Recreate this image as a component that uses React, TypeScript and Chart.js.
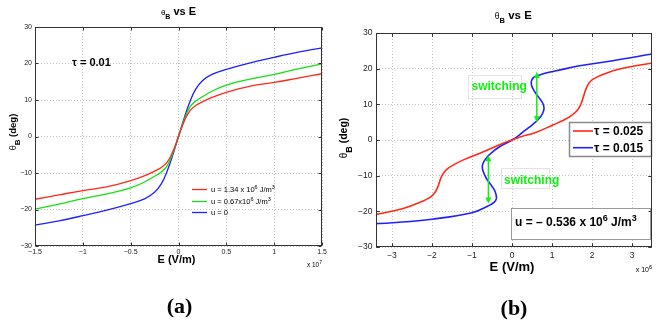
import React, { useEffect, useRef } from 'react';
import { Chart, registerables } from 'chart.js';
Chart.register(...registerables);

const SANS = '"Liberation Sans", Arial, Helvetica, sans-serif';
const SERIF = '"Liberation Serif", "Times New Roman", serif';

// ---------- Panel (a): theta_B vs E, tau = 0.01 (E in units of 1e7 V/m) ----------
const E_A = [-1.5, -1.25, -1, -0.75, -0.5, -0.35, -0.25, -0.18, -0.12, -0.06, 0, 0.06, 0.12, 0.18, 0.25, 0.35, 0.5, 0.75, 1, 1.25, 1.5];
const THETA_A_U134 = [-17.2, -16.0, -14.8, -13.8, -12.1, -10.7, -9.5, -8.5, -7.1, -4.2, 0, 4.2, 7.1, 8.5, 9.5, 10.7, 12.1, 13.8, 14.8, 16.0, 17.2];
const THETA_A_U067 = [-19.9, -18.5, -17.0, -15.7, -14.1, -12.4, -10.9, -9.7, -8.1, -4.6, 0, 4.6, 8.1, 9.7, 10.9, 12.4, 14.1, 15.7, 17.0, 18.5, 19.9];
const THETA_A_U0 = [-24.3, -23.1, -21.7, -20.2, -18.4, -17.0, -15.3, -13.0, -9.6, -5.1, 0, 5.1, 9.6, 13.0, 15.3, 17.0, 18.4, 20.2, 21.7, 23.1, 24.3];
const A_X_MIN = -1.5, A_X_MAX = 1.5, A_X_STEP = 0.5;
const Y_MIN = -30, Y_MAX = 30, Y_STEP = 10;

// ---------- Panel (b): u = -0.536e6 J/m^3 (E in units of 1e6 V/m) ----------
const E_B_TAU025 = [-3.5, -2.72, -2.22, -2.05, -1.93, -1.85, -1.76, -1.64, -1.45, -1.2, -0.8, -0.22, 0, 0.19, 0.61, 1.02, 1.3, 1.5, 1.64, 1.72, 1.79, 1.86, 1.94, 2.05, 2.3, 2.69, 3.5];
const THETA_B_TAU025 = [-21.1, -19.2, -17.1, -16.1, -14.8, -13.0, -10.2, -8.3, -6.9, -5.5, -3.7, -0.9, 0, 0.8, 2.2, 4.2, 5.6, 7.0, 8.4, 10.0, 12.3, 14.6, 16.2, 17.2, 18.5, 19.9, 21.6];
const E_B_TAU015 = [-3.5, -3.0, -2.0, -1.0, -0.6, -0.45, -0.39, -0.42, -0.5, -0.64, -0.73, -0.74, -0.7, -0.6, -0.45, -0.31, -0.15, 0, 0.15, 0.27, 0.4, 0.52, 0.66, 0.76, 0.8, 0.77, 0.68, 0.57, 0.49, 0.49, 0.55, 0.69, 0.9, 1.11, 1.69, 2.52, 3.5];
const THETA_B_TAU015 = [-23.5, -23.2, -22.2, -20.4, -18.5, -17.5, -16.4, -14.5, -13.0, -10.8, -8.5, -7.2, -6.0, -4.5, -3.0, -1.9, -0.9, 0, 1.1, 2.2, 3.3, 4.4, 5.8, 7.3, 8.8, 10.3, 11.8, 13.5, 15.3, 16.7, 17.6, 18.2, 18.9, 19.4, 20.8, 22.2, 24.1];
const B_X_MIN = -3.4, B_X_MAX = 3.5, B_X_STEP = 1;
// switching arrows: E position, theta start, theta end
const ARROW_E = [0.62, -0.59];
const ARROW_FROM = [5.0, -4.3];
const ARROW_TO = [19.1, -17.8];

const RED = '#ff2a1a';
const GREEN = '#14e014';
const BLUE = '#2020ff';
const ARROW_GREEN = '#11ee11';

type Seg = { t: string; f: string; dy?: number; c?: string };

function richWidth(ctx: CanvasRenderingContext2D, segs: Seg[]) {
  let w = 0;
  for (const s of segs) { ctx.font = s.f; w += ctx.measureText(s.t).width; }
  return w;
}
function drawRich(ctx: CanvasRenderingContext2D, segs: Seg[], x: number, y: number, align: 'left' | 'center' | 'right' = 'left') {
  const w = richWidth(ctx, segs);
  let cx = align === 'left' ? x : align === 'center' ? x - w / 2 : x - w;
  ctx.textAlign = 'left';
  ctx.textBaseline = 'alphabetic';
  for (const s of segs) {
    ctx.font = s.f;
    ctx.fillStyle = s.c || '#000';
    ctx.fillText(s.t, cx, y + (s.dy || 0));
    cx += ctx.measureText(s.t).width;
  }
}
function fmtTick(v: number | string) {
  const n = Number(v);
  const r = Math.round(n * 1000) / 1000;
  return r < 0 ? '\u2212' + String(Math.abs(r)) : String(r);
}
function frameAndTicks(chart: any) {
  const { ctx, chartArea: a, scales } = chart;
  ctx.save();
  ctx.strokeStyle = '#333';
  ctx.lineWidth = 1;
  const L = Math.round(a.left) + 0.5, T = Math.round(a.top) + 0.5, R = Math.round(a.right) - 0.5, B = Math.round(a.bottom) - 0.5;
  ctx.strokeRect(L, T, R - L, B - T);
  ctx.beginPath();
  for (const t of scales.x.ticks) {
    const px = Math.round(scales.x.getPixelForValue(t.value)) + 0.5;
    ctx.moveTo(px, B); ctx.lineTo(px, B - 3);
    ctx.moveTo(px, T); ctx.lineTo(px, T + 3);
  }
  for (const t of scales.y.ticks) {
    const py = Math.round(scales.y.getPixelForValue(t.value)) + 0.5;
    ctx.moveTo(L, py); ctx.lineTo(L + 3, py);
    ctx.moveTo(R, py); ctx.lineTo(R - 3, py);
  }
  ctx.stroke();
  ctx.restore();
}
function rotatedLabel(ctx: CanvasRenderingContext2D, segs: Seg[], x: number, y: number) {
  ctx.save();
  ctx.translate(x, y);
  ctx.rotate(-Math.PI / 2);
  drawRich(ctx, segs, 0, 0, 'center');
  ctx.restore();
}

const annotA = {
  id: 'annotA',
  afterDraw(chart: any) {
    const { ctx, chartArea: a } = chart;
    frameAndTicks(chart);
    ctx.save();
    const cx = (a.left + a.right) / 2;
    drawRich(ctx, [
      { t: '\u03B8', f: `8px ${SANS}` },
      { t: 'B', f: `bold 7px ${SANS}`, dy: 3.5 },
      { t: ' vs E', f: `bold 11px ${SANS}` },
    ], cx, 15, 'center');
    rotatedLabel(ctx, [
      { t: '\u03B8', f: `9px ${SANS}` },
      { t: 'B', f: `bold 8px ${SANS}`, dy: 4 },
      { t: ' (deg)', f: `bold 9.5px ${SANS}` },
    ], 15.5, 132);
    drawRich(ctx, [{ t: 'E (V/m)', f: `bold 11px ${SANS}` }], cx - 2, 263, 'center');
    drawRich(ctx, [
      { t: 'x 10', f: `6.5px ${SANS}` },
      { t: '7', f: `5px ${SANS}`, dy: -3 },
    ], a.right, 267, 'right');
    drawRich(ctx, [{ t: '\u03C4 = 0.01', f: `bold 11px ${SANS}` }], 72, 66, 'left');

    const rows: { c: string; segs: Seg[] }[] = [
      { c: RED, segs: [{ t: 'u = 1.34 x 10', f: `7.5px ${SANS}` }, { t: '6', f: `5.5px ${SANS}`, dy: -3 }, { t: ' J/m', f: `7.5px ${SANS}` }, { t: '3', f: `5.5px ${SANS}`, dy: -3 }] },
      { c: GREEN, segs: [{ t: 'u = 0.67x10', f: `7.5px ${SANS}` }, { t: '6', f: `5.5px ${SANS}`, dy: -3 }, { t: ' J/m', f: `7.5px ${SANS}` }, { t: '3', f: `5.5px ${SANS}`, dy: -3 }] },
      { c: BLUE, segs: [{ t: 'u = 0', f: `7.5px ${SANS}` }] },
    ];
    const rowY = [189, 201, 212];
    rows.forEach((r, i) => {
      ctx.strokeStyle = r.c;
      ctx.lineWidth = 1.3;
      ctx.beginPath();
      ctx.moveTo(192, rowY[i] + 0.5);
      ctx.lineTo(207, rowY[i] + 0.5);
      ctx.stroke();
      drawRich(ctx, r.segs, 211, rowY[i] + 2.7, 'left');
    });
    drawRich(ctx, [{ t: '(a)', f: `bold 22px ${SERIF}` }], 179.5, 313, 'center');
    ctx.restore();
  },
};

function drawArrow(ctx: CanvasRenderingContext2D, x: number, y1: number, y2: number) {
  const head = 6, hw = 3;
  const top = Math.min(y1, y2), bot = Math.max(y1, y2);
  ctx.strokeStyle = ARROW_GREEN;
  ctx.fillStyle = ARROW_GREEN;
  ctx.lineWidth = 1.5;
  ctx.beginPath();
  ctx.moveTo(x, top + head - 1);
  ctx.lineTo(x, bot - head + 1);
  ctx.stroke();
  ctx.beginPath();
  ctx.moveTo(x, top); ctx.lineTo(x - hw, top + head); ctx.lineTo(x + hw, top + head); ctx.closePath(); ctx.fill();
  ctx.beginPath();
  ctx.moveTo(x, bot); ctx.lineTo(x - hw, bot - head); ctx.lineTo(x + hw, bot - head); ctx.closePath(); ctx.fill();
}

const annotB = {
  id: 'annotB',
  afterDraw(chart: any) {
    const { ctx, chartArea: a, scales } = chart;
    frameAndTicks(chart);
    ctx.save();
    // switching annotations
    ctx.strokeStyle = '#e4e4e4';
    ctx.lineWidth = 1;
    ctx.strokeRect(138.5, 75.5, 53, 23);
    ctx.strokeRect(171.5, 168.5, 48, 20);
    drawRich(ctx, [{ t: 'switching', f: `bold 12px ${SANS}`, c: ARROW_GREEN }], 141.5, 89.5, 'left');
    drawRich(ctx, [{ t: 'switching', f: `bold 12px ${SANS}`, c: ARROW_GREEN }], 174, 183.5, 'left');
    ARROW_E.forEach((e, i) => {
      const x = scales.x.getPixelForValue(e);
      drawArrow(ctx, x, scales.y.getPixelForValue(ARROW_FROM[i]), scales.y.getPixelForValue(ARROW_TO[i]));
    });
    // legend box
    ctx.fillStyle = '#fff';
    ctx.fillRect(239.5, 122.5, 82, 34);
    ctx.strokeStyle = '#8a8a8a';
    ctx.strokeRect(239.5, 122.5, 82, 34);
    const lg = [{ c: RED, t: '\u03C4 = 0.025', y: 131 }, { c: BLUE, t: '\u03C4 = 0.015', y: 147.7 }];
    lg.forEach((r) => {
      ctx.strokeStyle = r.c;
      ctx.lineWidth = 1.6;
      ctx.beginPath();
      ctx.moveTo(243, r.y);
      ctx.lineTo(263, r.y);
      ctx.stroke();
      drawRich(ctx, [{ t: r.t, f: `bold 12px ${SANS}` }], 264, r.y + 4.3, 'left');
    });
    // u box
    ctx.fillStyle = '#fff';
    ctx.fillRect(181.5, 208.5, 139, 31);
    ctx.strokeStyle = '#9a9a9a';
    ctx.lineWidth = 1;
    ctx.strokeRect(181.5, 208.5, 139, 31);
    drawRich(ctx, [
      { t: 'u = \u2013 0.536 x 10', f: `bold 12px ${SANS}` },
      { t: '6', f: `bold 9px ${SANS}`, dy: -5 },
      { t: ' J/m', f: `bold 12px ${SANS}` },
      { t: '3', f: `bold 9px ${SANS}`, dy: -5 },
    ], 185, 226, 'left');
    ctx.restore();
    frameAndTicks(chart);
    ctx.save();
    const cx = (a.left + a.right) / 2;
    drawRich(ctx, [
      { t: '\u03B8', f: `8.5px ${SANS}` },
      { t: 'B', f: `bold 7.5px ${SANS}`, dy: 4 },
      { t: ' vs E', f: `bold 11.5px ${SANS}` },
    ], 183.3, 19, 'center');
    rotatedLabel(ctx, [
      { t: '\u03B8', f: `10px ${SANS}` },
      { t: 'B', f: `bold 9px ${SANS}`, dy: 4.5 },
      { t: ' (deg)', f: `bold 10.5px ${SANS}` },
    ], 17, 138);
    drawRich(ctx, [{ t: 'E (V/m)', f: `bold 13px ${SANS}` }], cx - 2, 271, 'center');
    drawRich(ctx, [
      { t: 'x 10', f: `7px ${SANS}` },
      { t: '6', f: `5.5px ${SANS}`, dy: -3 },
    ], a.right, 271.5, 'right');
    drawRich(ctx, [{ t: '(b)', f: `bold 22px ${SERIF}` }], 184, 315, 'center');
    ctx.restore();
  },
};

function axisOpts(min: number, max: number, step: number, size: number, pad: number, fit: (s: any) => void) {
  return {
    type: 'linear' as const,
    min, max,
    ticks: { stepSize: step, includeBounds: false, autoSkip: false, maxRotation: 0, padding: pad, color: '#222', font: { family: SANS, size }, callback: fmtTick },
    grid: { color: '#c4c4c4', lineWidth: 1, drawTicks: false },
    border: { display: false, dash: [1, 2] },
    afterFit: fit,
  };
}

function lineDs(xs: number[], ys: number[], color: string, width: number, tension: number) {
  return {
    data: xs.map((x, i) => ({ x, y: ys[i] })),
    borderColor: color,
    backgroundColor: color,
    showLine: true,
    pointRadius: 0,
    borderWidth: width,
    fill: false,
    tension,
  };
}

function buildA(canvas: HTMLCanvasElement) {
  return new Chart(canvas, {
    type: 'scatter',
    data: {
      datasets: [
        lineDs(E_A, THETA_A_U134, RED, 1.3, 0.4),
        lineDs(E_A, THETA_A_U067, GREEN, 1.3, 0.4),
        lineDs(E_A, THETA_A_U0, BLUE, 1.3, 0.4),
      ],
    },
    options: {
      animation: false,
      responsive: false,
      devicePixelRatio: 1,
      events: [],
      layout: { padding: { top: 27, right: 8, left: 0, bottom: 0 } },
      plugins: { legend: { display: false }, title: { display: false }, tooltip: { enabled: false } },
      scales: {
        x: axisOpts(A_X_MIN, A_X_MAX, A_X_STEP, 7, 2, (s: any) => { s.height = 78; }),
        y: axisOpts(Y_MIN, Y_MAX, Y_STEP, 7, 3, (s: any) => { s.width = 35; }),
      },
    } as any,
    plugins: [annotA],
  });
}

function buildB(canvas: HTMLCanvasElement) {
  return new Chart(canvas, {
    type: 'scatter',
    data: {
      datasets: [
        lineDs(E_B_TAU025, THETA_B_TAU025, RED, 1.6, 0.4),
        lineDs(E_B_TAU015, THETA_B_TAU015, BLUE, 1.6, 0.4),
      ],
    },
    options: {
      animation: false,
      responsive: false,
      devicePixelRatio: 1,
      events: [],
      layout: { padding: { top: 33, right: 8, left: 0, bottom: 0 } },
      plugins: { legend: { display: false }, title: { display: false }, tooltip: { enabled: false } },
      scales: {
        x: axisOpts(B_X_MIN, B_X_MAX, B_X_STEP, 8.5, 4, (s: any) => { s.height = 77; }),
        y: axisOpts(Y_MIN, Y_MAX, Y_STEP, 8.5, 3.5, (s: any) => { s.width = 46; }),
      },
    } as any,
    plugins: [annotB],
  });
}

function Panel({ left, build }: { left: number; build: (c: HTMLCanvasElement) => Chart }) {
  const ref = useRef<HTMLCanvasElement>(null);
  useEffect(() => {
    const c = build(ref.current as HTMLCanvasElement);
    return () => c.destroy();
  }, []);
  return (
    <canvas
      ref={ref}
      width={330}
      height={324}
      style={{ position: 'absolute', left, top: 0, width: 330, height: 324 }}
    />
  );
}

export default function App() {
  return (
    <div style={{ position: 'absolute', left: 0, top: 0, width: 660, height: 324, background: '#fff', overflow: 'hidden' }}>
      <Panel left={0} build={buildA} />
      <Panel left={330} build={buildB} />
    </div>
  );
}
